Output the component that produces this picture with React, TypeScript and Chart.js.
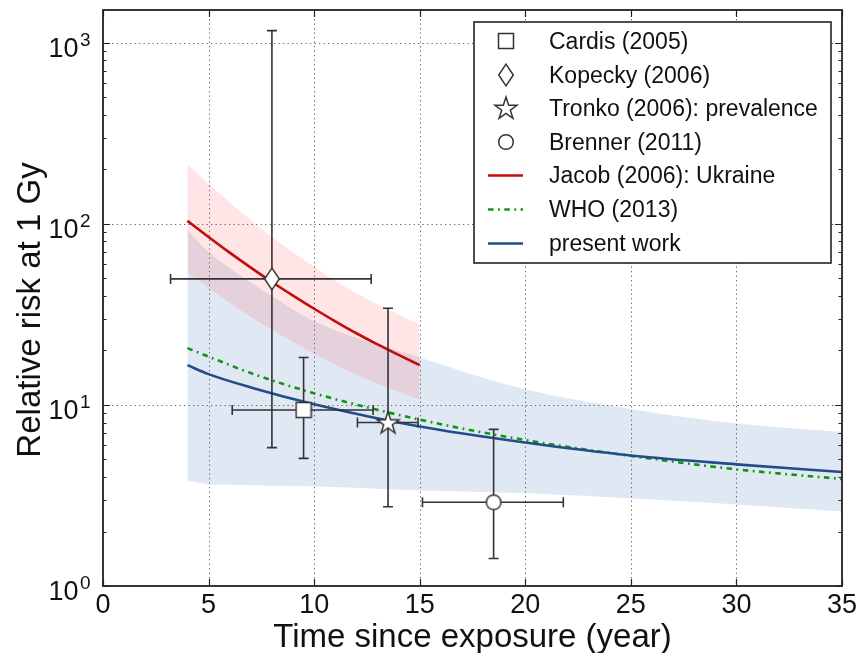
import React, { useEffect, useRef } from 'react';
import { Chart, registerables } from 'chart.js';

Chart.register(...registerables);

// ---------------- data ----------------
const xMin = 0;
const xMax = 35;
const yMin = 1;
const yMax = 1520;
const xTickValues = [0, 5, 10, 15, 20, 25, 30, 35];
const yDecadeExponents = [0, 1, 2, 3];

const xAxisTitle = 'Time since exposure (year)';
const yAxisTitle = 'Relative risk at 1 Gy';

// epidemiological studies (point + error bars)
const studyNames = ['Cardis (2005)', 'Kopecky (2006)', 'Tronko (2006): prevalence', 'Brenner (2011)'];
const studyX = [9.5, 8, 13.5, 18.5];
const studyY = [9.38, 49.7, 8.0, 2.9];
const studyXLow = [6.12, 3.2, 12.05, 15.13];
const studyXHigh = [12.79, 12.7, 14.92, 21.8];
const studyYLow = [5.07, 5.81, 2.74, 1.42];
const studyYHigh = [18.3, 1170, 34.2, 7.33];

// Jacob (2006): Ukraine
const jacobLabel = 'Jacob (2006): Ukraine';
const jacobX = [4, 5, 6, 7, 8, 9, 10, 11, 12, 13, 14, 15];
const jacobY = [104, 84.7, 69.4, 57.4, 47.8, 40.2, 34.0, 29.0, 24.9, 21.6, 18.9, 16.6];
const jacobBandX = [4, 5, 6, 7, 8, 10, 12, 15];
const jacobBandHigh = [214, 166.7, 131.5, 105, 85, 57.8, 41.4, 27.7];
const jacobBandLow = [54, 44.3, 36.7, 30.7, 26, 19.2, 14.7, 10.7];

// WHO (2013) and present work
const whoLabel = 'WHO (2013)';
const presentLabel = 'present work';
const curveX = [4, 5, 7, 10, 15, 20, 25, 30, 35];
const whoY = [20.6, 18.5, 15.0, 11.6, 8.3, 6.4, 5.23, 4.41, 3.9];
const presentY = [16.6, 14.8, 12.5, 10.1, 7.6, 6.2, 5.26, 4.7, 4.26];
const presentBandX = [4, 5, 6, 8, 10, 15, 20, 25, 30, 35];
const presentBandHigh = [92.7, 70, 57, 40, 29, 18.3, 12.2, 9.5, 7.9, 7.1];
const presentBandLow = [3.8, 3.65, 3.62, 3.58, 3.55, 3.38, 3.25, 3.05, 2.82, 2.58];

// ---------------- styles ----------------
const FONT = '"Liberation Sans", Arial, Helvetica, sans-serif';
const RED = '#c00d0d';
const GREEN = '#0f960f';
const BLUE = '#234c8a';
const RED_FILL = 'rgba(255,45,45,0.12)';
const BLUE_FILL = 'rgba(48,102,182,0.15)';
const MARK = '#333333';
const WHO_DASH = [5.5, 4.5, 1.8, 4.5];

const pts = (xs: number[], ys: number[]) => xs.map((x, i) => ({ x, y: ys[i] }));

function makeCanvas(w: number, h: number, draw: (c: CanvasRenderingContext2D) => void) {
  const cv = document.createElement('canvas');
  cv.width = w;
  cv.height = h;
  const c = cv.getContext('2d')!;
  c.fillStyle = '#ffffff';
  c.strokeStyle = MARK;
  c.lineWidth = 1.5;
  draw(c);
  return cv;
}

function makeMarkers() {
  const square = makeCanvas(18, 18, (c) => {
    c.beginPath();
    c.rect(1.5, 1.5, 15, 15);
    c.fill();
    c.stroke();
  });
  const diamond = makeCanvas(18, 24, (c) => {
    c.beginPath();
    c.moveTo(9, 1.2);
    c.lineTo(16.3, 12);
    c.lineTo(9, 22.8);
    c.lineTo(1.7, 12);
    c.closePath();
    c.fill();
    c.stroke();
  });
  const star = makeCanvas(26, 26, (c) => {
    const cx = 13, cy = 13.8, R = 11.8, r = R * 0.382;
    c.beginPath();
    for (let i = 0; i < 10; i++) {
      const a = -Math.PI / 2 + (i * Math.PI) / 5;
      const rad = i % 2 === 0 ? R : r;
      const px = cx + rad * Math.cos(a);
      const py = cy + rad * Math.sin(a);
      if (i === 0) c.moveTo(px, py);
      else c.lineTo(px, py);
    }
    c.closePath();
    c.fill();
    c.stroke();
  });
  const circle = makeCanvas(18, 18, (c) => {
    c.beginPath();
    c.arc(9, 9, 7.3, 0, Math.PI * 2);
    c.fill();
    c.stroke();
  });
  return [square, diamond, star, circle];
}

function drawText(
  ctx: CanvasRenderingContext2D,
  s: string,
  x: number,
  y: number,
  size: number,
  align: CanvasTextAlign = 'left',
  baseline: CanvasTextBaseline = 'alphabetic'
) {
  ctx.font = `${size}px ${FONT}`;
  ctx.textAlign = align;
  ctx.textBaseline = baseline;
  ctx.fillStyle = '#111111';
  ctx.fillText(s, x, y);
}

function makeFramePlugin(markers: HTMLCanvasElement[]) {
  return {
    id: 'frame',
    beforeDatasetsDraw(chart: any) {
      const { ctx, chartArea: a, scales } = chart;
      const xs = scales.x, ys = scales.y;
      ctx.save();
      ctx.strokeStyle = '#666666';
      ctx.lineWidth = 1;
      ctx.setLineDash([1.3, 3.2]);
      for (const t of xTickValues) {
        if (t === xMin || t === xMax) continue;
        const px = Math.round(xs.getPixelForValue(t)) + 0.5;
        ctx.beginPath();
        ctx.moveTo(px, a.top);
        ctx.lineTo(px, a.bottom);
        ctx.stroke();
      }
      for (const e of yDecadeExponents) {
        const v = Math.pow(10, e);
        if (v <= yMin || v >= yMax) continue;
        const py = Math.round(ys.getPixelForValue(v)) + 0.5;
        ctx.beginPath();
        ctx.moveTo(a.left, py);
        ctx.lineTo(a.right, py);
        ctx.stroke();
      }
      ctx.restore();
    },
    beforeDatasetDraw(chart: any, args: any) {
      const ds = chart.data.datasets[args.index];
      const si = ds.studyIndex;
      if (si === undefined) return;
      const { ctx, chartArea: a, scales } = chart;
      const xs = scales.x, ys = scales.y;
      const px = xs.getPixelForValue(studyX[si]);
      const py = ys.getPixelForValue(studyY[si]);
      const x0 = xs.getPixelForValue(studyXLow[si]);
      const x1 = xs.getPixelForValue(studyXHigh[si]);
      const y0 = ys.getPixelForValue(studyYLow[si]);
      const y1 = ys.getPixelForValue(studyYHigh[si]);
      const cap = 5;
      ctx.save();
      ctx.beginPath();
      ctx.rect(a.left, a.top, a.right - a.left, a.bottom - a.top);
      ctx.clip();
      ctx.strokeStyle = '#333333';
      ctx.lineWidth = 1.6;
      ctx.beginPath();
      ctx.moveTo(x0, py); ctx.lineTo(x1, py);
      ctx.moveTo(x0, py - cap); ctx.lineTo(x0, py + cap);
      ctx.moveTo(x1, py - cap); ctx.lineTo(x1, py + cap);
      ctx.moveTo(px, y0); ctx.lineTo(px, y1);
      ctx.moveTo(px - cap, y0); ctx.lineTo(px + cap, y0);
      ctx.moveTo(px - cap, y1); ctx.lineTo(px + cap, y1);
      ctx.stroke();
      ctx.restore();
    },
    afterDatasetsDraw(chart: any) {
      const { ctx, chartArea: a, scales } = chart;
      const xs = scales.x, ys = scales.y;
      ctx.save();
      // ticks
      ctx.strokeStyle = '#222222';
      ctx.lineWidth = 1.2;
      ctx.beginPath();
      for (const t of xTickValues) {
        const px = Math.round(xs.getPixelForValue(t)) + 0.5;
        ctx.moveTo(px, a.bottom); ctx.lineTo(px, a.bottom - 7);
        ctx.moveTo(px, a.top); ctx.lineTo(px, a.top + 7);
      }
      for (const e of yDecadeExponents) {
        for (let k = 1; k <= 9; k++) {
          const v = k * Math.pow(10, e);
          if (v < yMin || v > yMax) continue;
          const py = Math.round(ys.getPixelForValue(v)) + 0.5;
          const len = k === 1 ? 7 : 3.5;
          ctx.moveTo(a.left, py); ctx.lineTo(a.left + len, py);
          ctx.moveTo(a.right, py); ctx.lineTo(a.right - len, py);
        }
      }
      ctx.stroke();
      // spines
      ctx.lineWidth = 1.8;
      ctx.strokeStyle = '#222222';
      ctx.strokeRect(a.left, a.top, a.right - a.left, a.bottom - a.top);

      // tick labels
      for (const t of xTickValues) {
        drawText(ctx, String(t), xs.getPixelForValue(t), a.bottom + 26.5, 27, 'center');
      }
      for (const e of yDecadeExponents) {
        const v = Math.pow(10, e);
        if (v > yMax) continue;
        const py = ys.getPixelForValue(v);
        drawText(ctx, '10', a.left - 24.5, py + 14, 27, 'right');
        drawText(ctx, String(e), a.left - 23, py + 3, 19, 'left');
      }
      // axis titles
      drawText(ctx, xAxisTitle, (a.left + a.right) / 2, 647, 33, 'center');
      ctx.save();
      ctx.translate(40, (a.top + a.bottom) / 2 + 12);
      ctx.rotate(-Math.PI / 2);
      drawText(ctx, yAxisTitle, 0, 0, 33, 'center');
      ctx.restore();

      // legend
      const lx = 474, ly = 22, lw = 357, lh = 241;
      ctx.fillStyle = '#ffffff';
      ctx.fillRect(lx, ly, lw, lh);
      ctx.lineWidth = 1.6;
      ctx.strokeStyle = '#222222';
      ctx.strokeRect(lx, ly, lw, lh);
      const rowY0 = 41, rowStep = 33.6, mx = 506, tx = 549;
      studyNames.forEach((name, i) => {
        const cy = rowY0 + i * rowStep;
        const m = markers[i];
        ctx.drawImage(m, Math.round(mx - m.width / 2), Math.round(cy - m.height / 2));
        drawText(ctx, name, tx, cy + 8, 23, 'left');
      });
      const lineRows = [
        { label: jacobLabel, color: RED, dash: [] as number[] },
        { label: whoLabel, color: GREEN, dash: WHO_DASH },
        { label: presentLabel, color: BLUE, dash: [] as number[] },
      ];
      lineRows.forEach((r, j) => {
        const cy = rowY0 + (4 + j) * rowStep;
        ctx.save();
        ctx.strokeStyle = r.color;
        ctx.lineWidth = 2.6;
        ctx.setLineDash(r.dash);
        ctx.beginPath();
        ctx.moveTo(488, Math.round(cy) + 0.5);
        ctx.lineTo(523, Math.round(cy) + 0.5);
        ctx.stroke();
        ctx.restore();
        drawText(ctx, r.label, tx, cy + 8, 23, 'left');
      });
      ctx.restore();
    },
  };
}

export default function App() {
  const ref = useRef<HTMLCanvasElement>(null);
  useEffect(() => {
    document.body.style.margin = '0';
    const markers = makeMarkers();
    const markerDs = studyNames.map((name, i) => ({
      type: 'scatter' as const,
      label: name,
      studyIndex: i,
      data: [{ x: studyX[i], y: studyY[i] }],
      pointStyle: markers[i],
      pointRadius: 8,
      showLine: false,
    }));
    const lineBase = {
      type: 'line' as const,
      pointRadius: 0,
      cubicInterpolationMode: 'monotone' as const,
      fill: false,
    };
    const bandBase = {
      type: 'line' as const,
      pointRadius: 0,
      borderWidth: 0,
      borderColor: 'rgba(0,0,0,0)',
      cubicInterpolationMode: 'monotone' as const,
    };
    const chart = new Chart(ref.current!, {
      type: 'scatter',
      data: {
        datasets: [
          ...markerDs,
          { ...lineBase, label: presentLabel, data: pts(curveX, presentY), borderColor: BLUE, borderWidth: 2.6 },
          { ...lineBase, label: whoLabel, data: pts(curveX, whoY), borderColor: GREEN, borderWidth: 2.6, borderDash: WHO_DASH },
          { ...lineBase, label: jacobLabel, data: pts(jacobX, jacobY), borderColor: RED, borderWidth: 2.6 },
          { ...bandBase, label: 'jacob-high', data: pts(jacobBandX, jacobBandHigh), fill: '+1', backgroundColor: RED_FILL },
          { ...bandBase, label: 'jacob-low', data: pts(jacobBandX, jacobBandLow), fill: false },
          { ...bandBase, label: 'present-high', data: pts(presentBandX, presentBandHigh), fill: '+1', backgroundColor: BLUE_FILL },
          { ...bandBase, label: 'present-low', data: pts(presentBandX, presentBandLow), fill: false },
        ] as any,
      },
      options: {
        animation: false,
        responsive: false,
        events: [],
        layout: { padding: { left: 103, right: 20, top: 10, bottom: 67 } },
        scales: {
          x: { type: 'linear', min: xMin, max: xMax, display: false },
          y: { type: 'logarithmic', min: yMin, max: yMax, display: false },
        },
        plugins: {
          legend: { display: false },
          tooltip: { enabled: false },
        },
      },
      plugins: [makeFramePlugin(markers)],
    } as any);
    return () => chart.destroy();
  }, []);
  return (
    <div style={{ width: 862, height: 653, background: '#fff' }}>
      <canvas ref={ref} width={862} height={653} style={{ display: 'block' }} />
    </div>
  );
}
